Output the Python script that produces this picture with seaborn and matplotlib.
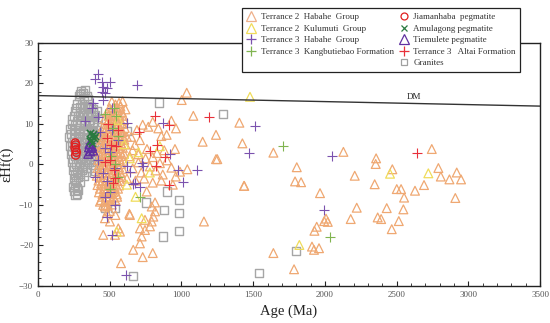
import pandas as pd
import seaborn as sns
import matplotlib.pyplot as plt
from matplotlib.lines import Line2D
from matplotlib.ticker import MultipleLocator

# Hf isotope data: (age in Ma, epsilon Hf(t))
T2_HABAHE = [
    (515, 15.5), (540, 14.8), (565, 15.2), (590, 15.6), (500, 13.9),
    (528, 14.1), (552, 14.0), (575, 14.3),
    (480, 12.8), (505, 13.1), (530, 12.5), (555, 13.4), (585, 12.9), (610, 13.6),
    (492, 12.0), (518, 12.2), (542, 11.9), (568, 12.1), (595, 12.0),
    (465, 11.2), (490, 10.8), (520, 11.5), (545, 10.6), (570, 11.3), (600, 10.9),
    (478, 10.0), (505, 10.2), (532, 9.9), (558, 10.1), (585, 10.0),
    (450, 9.1), (475, 8.7), (500, 9.4), (525, 8.8), (550, 9.2), (575, 8.6), (605, 9.0),
    (462, 8.0), (488, 8.1), (512, 7.9), (538, 8.2), (562, 7.8), (590, 8.0),
    (440, 7.2), (465, 6.8), (490, 7.5), (515, 6.9), (540, 7.3), (565, 6.6), (590, 7.1), (620, 6.8),
    (452, 6.0), (478, 6.1), (502, 5.9), (528, 6.2), (552, 5.8), (578, 6.0), (602, 6.1),
    (430, 5.1), (455, 4.7), (480, 5.4), (505, 4.8), (530, 5.3), (555, 4.6), (580, 5.2), (610, 4.9),
    (442, 4.0), (468, 4.1), (492, 3.9), (518, 4.2), (542, 3.8), (568, 4.0), (592, 4.1),
    (425, 3.2), (450, 2.8), (475, 3.5), (500, 2.9), (525, 3.3), (550, 2.7), (575, 3.1), (600, 2.6),
    (435, 2.0), (460, 2.1), (488, 1.9), (512, 2.2), (538, 1.8), (562, 2.0), (588, 2.1),
    (420, 1.1), (445, 0.7), (470, 1.4), (495, 0.8), (520, 1.2), (545, 0.6), (570, 1.3), (595, 0.9),
    (430, 0.0), (455, 0.1), (480, -0.1), (505, 0.2), (530, -0.2), (555, 0.0), (580, 0.1),
    (415, -0.9), (440, -1.3), (465, -0.6), (490, -1.2), (515, -0.8), (540, -1.4), (565, -0.7), (590, -1.1),
    (425, -2.0), (450, -1.9), (475, -2.1), (500, -2.0), (525, -1.8), (550, -2.2), (575, -2.0),
    (410, -2.8), (435, -3.2), (460, -2.6), (485, -3.3), (510, -2.9), (535, -3.4), (560, -2.7), (585, -3.1),
    (422, -4.0), (448, -4.1), (475, -3.9), (500, -4.2), (528, -3.8), (552, -4.0), (575, -4.1),
    (415, -5.1), (440, -4.7), (465, -5.3), (490, -4.9), (515, -5.4), (540, -4.8), (565, -5.2),
    (432, -6.0), (458, -6.1), (485, -5.9), (510, -6.2), (535, -5.8), (558, -6.0),
    (425, -6.9), (450, -7.3), (475, -6.7), (500, -7.2), (525, -6.8), (550, -7.4),
    (448, -8.0), (475, -8.1), (502, -7.9), (528, -8.2), (552, -8.0),
    (440, -8.8), (465, -9.2), (490, -8.7), (515, -9.1), (540, -8.9),
    (455, -10.0), (485, -10.2), (515, -9.9),
    (432, -9.2), (467, -10.4), (467, -13.3), (502, -14.1), (455, -17.4), (560, -15.8),
    (537, -17.4), (572, -16.6), (637, -12.2), (579, -24.4), (500, -11.5), (480, -12.0), (540, -12.5),
    (769, 9.3), (839, 8.9), (962, 8.9), (897, 7.3), (711, 6.0), (676, 4.8), (955, 3.8),
    (1037, 17.7), (1002, 15.9), (1083, 12.0), (1241, 7.3), (1148, 5.6), (1404, 10.3), (1425, 5.2),
    (1250, 1.3), (1041, -1.2), (1438, -5.3), (1157, -14.1),
    (640, 2.0), (660, -1.0), (700, 0.5), (720, -2.0), (750, 1.5), (780, -0.5), (800, 1.8),
    (820, -1.5), (850, 0.3), (870, -2.5), (900, 1.0), (930, -0.8), (960, -3.0), (990, -1.8),
    (620, -3.5), (680, -4.0), (740, -3.5), (800, -4.5), (860, -4.0), (940, -5.0),
    (660, 3.5), (700, 2.5), (760, 3.8), (830, 2.8), (880, 3.5),
    (650, 6.8), (690, 8.5), (730, 9.8), (800, 10.5), (860, 7.0), (930, 10.8),
    (816, -9.4), (816, -11.6), (804, -12.9), (793, -14.1), (781, -15.3), (746, -16.2),
    (711, -15.8), (723, -17.8), (711, -19.5), (664, -21.1), (730, -22.9), (800, -21.9),
    (746, -13.7), (793, -10.4), (758, -6.7), (641, -12.5),
    (1241, 1.3), (1641, 2.9), (1804, -0.7), (2129, 3.1), (2357, 1.5), (2354, 0.1),
    (2470, -1.2), (2208, -2.8), (2791, -0.9), (2808, -3.0), (2919, -2.0), (2868, -3.7),
    (2949, -3.7), (1792, -4.2), (1834, -4.4), (2347, -4.9), (2691, -5.1), (1436, -5.3),
    (2501, -6.1), (2531, -6.1), (2628, -6.5), (1966, -7.1), (2552, -8.2), (2909, -8.3),
    (2222, -10.7), (2431, -10.8), (2547, -11.1), (2008, -13.4), (1995, -14.0), (2020, -14.2),
    (2180, -13.5), (2368, -13.1), (2392, -13.5), (2515, -14.0), (1943, -15.4), (1927, -16.4),
    (2466, -16.0), (1910, -20.3), (1924, -21.1), (1959, -20.7), (1641, -21.9), (1785, -25.9),
    (2745, 3.8),
]
T2_KULUMUTI = [
    (1478, 16.7), (2454, -2.3), (2721, -2.2), (1822, -19.9), (640, 1.5), (700, 3.0),
    (780, -2.0), (620, -5.0), (850, 4.5), (560, 11.0), (600, 5.0), (723, -13.3),
    (549, -16.6), (680, -8.0),
]
T3_HABAHE = [
    (420, 22.3), (397, 21.0), (444, 20.4), (502, 20.4), (455, 19.2), (688, 19.6),
    (479, 18.8), (444, 18.0), (467, 17.6), (455, 15.9), (385, 15.1), (374, 13.9),
    (514, 13.9), (420, 11.8), (328, 10.6), (618, 10.2), (514, 8.5), (723, 0.3),
    (618, -0.5), (362, 5.2), (420, 1.1), (874, 10.3), (920, 2.6), (734, -0.5),
    (1106, -1.4), (978, -1.4), (664, -4.8), (711, -5.5), (1009, -4.4), (1513, 9.5),
    (1471, 2.8), (2050, 2.1), (1994, -11.2), (479, -12.9), (514, -17.4), (537, -10.0),
    (502, -6.7), (641, -1.8), (676, -4.6), (614, -27.3), (450, -2.0), (480, -4.0),
    (470, 4.0), (430, 8.0), (500, 3.0), (560, 6.0), (540, -1.0), (470, -8.0), (400, -3.0),
]
T3_KANGBUTIEBAO = [
    (1710, 4.6), (2036, -18.0), (711, -8.1), (530, 14.0), (545, 12.0), (520, 9.0),
    (555, 7.0), (510, 2.0), (540, 0.0), (560, -3.0), (500, -6.0), (470, 12.5),
]
T3_ALTAI = [
    (1192, 11.7), (816, 12.0), (915, 9.8), (706, 7.9), (832, 4.8), (781, 3.2),
    (885, 1.9), (915, -5.1), (2640, 2.8), (525, -4.6), (537, -3.4), (480, 6.5),
    (510, 4.8), (545, 4.5), (500, 1.0), (470, 0.5), (530, -1.5), (560, 8.5),
    (490, 10.0), (820, -0.5),
]
GRANITES = [
    (300, 18.2), (330, 18.4), (285, 16.8), (320, 16.5), (350, 16.2), (310, 15.0),
    (295, 17.3), (315, 17.6), (340, 17.0),
    (275, 14.8), (340, 14.5), (370, 14.2),
    (265, 14.0), (295, 14.1), (325, 13.8), (355, 14.0), (385, 13.7),
    (260, 13.2), (290, 12.8), (320, 13.0), (350, 12.6), (380, 12.9), (410, 13.3),
    (250, 12.0), (280, 11.9), (310, 12.1), (340, 11.8), (370, 12.0), (400, 12.2),
    (240, 11.1), (270, 10.6), (300, 11.0), (330, 10.5), (360, 10.9), (390, 10.4), (420, 11.2),
    (235, 10.0), (262, 9.8), (292, 9.9), (322, 10.1), (352, 9.7), (382, 9.9), (410, 9.8),
    (225, 8.8), (255, 8.4), (285, 8.9), (315, 8.3), (345, 8.7), (375, 8.2), (405, 8.6),
    (230, 7.6), (262, 7.5), (292, 7.7), (322, 7.4), (352, 7.6), (382, 7.3), (412, 7.6),
    (220, 6.7), (250, 6.3), (280, 6.8), (310, 6.2), (340, 6.6), (370, 6.1), (400, 6.5), (430, 6.9),
    (235, 5.5), (268, 5.4), (298, 5.6), (328, 5.3), (358, 5.5), (390, 5.2), (418, 5.6),
    (225, 4.6), (255, 4.2), (285, 4.7), (315, 4.1), (345, 4.5), (375, 4.0), (405, 4.4),
    (240, 3.4), (272, 3.3), (302, 3.5), (332, 3.2), (362, 3.4), (395, 3.1),
    (230, 2.6), (260, 2.2), (290, 2.7), (320, 2.1), (350, 2.5), (380, 2.0), (410, 2.4),
    (245, 1.4), (278, 1.3), (308, 1.5), (338, 1.2), (368, 1.4), (398, 1.1),
    (235, 0.6), (265, 0.2), (295, 0.7), (325, 0.1), (355, 0.5), (385, -0.1),
    (255, -0.6), (285, -0.7), (315, -0.5), (345, -0.8), (370, -0.9),
    (245, -1.4), (275, -1.8), (305, -1.3), (335, -1.9), (395, -1.5),
    (262, -2.5), (292, -2.4), (322, -2.8),
    (250, -3.5), (280, -3.0), (260, -5.0), (275, -5.8), (255, -6.6), (270, -7.3), (290, -4.3),
    (265, -4.2), (248, -5.6), (280, -6.4), (262, -7.6),
    (844, 15.3), (1288, 12.4), (618, 8.3), (897, -6.7), (753, -9.4), (985, -8.8),
    (878, -11.2), (985, -12.0), (985, -16.4), (874, -17.8), (664, -27.5), (467, -10.8),
    (537, -10.8), (1801, -21.3), (1539, -26.9),
]
JIAMANHABA = [(263, 4.8), (263, 3.6), (263, 2.3), (258, 4.2), (268, 3.0), (260, 5.3)]
AMULAGONG = [(365, 7.8), (375, 6.9), (385, 7.5), (370, 6.0), (380, 5.3), (390, 6.4),
             (360, 5.8), (395, 7.0)]
TIEMULETE = [(350, 2.6), (365, 3.2), (378, 4.4), (358, 5.0), (385, 3.4), (370, 4.0), (355, 4.2)]

DM_AGE = [0, 3500]
DM_EHF = [17.0, 14.4]

sns.set_theme(style="ticks")
plt.rcParams["font.family"] = ["Liberation Serif", "DejaVu Serif"]

fig = plt.figure(figsize=(5.5, 3.23), dpi=100)
ax = fig.add_axes([0.069, 0.115, 0.913, 0.752])

# (label, data, marker, colour, open marker?, size, line width)
series = [
    ("Granites", GRANITES, "s", "#a6a6a6", True, 34, 1.0),
    ("Terrance 2  Habahe  Group", T2_HABAHE, "^", "#efa872", True, 40, 0.9),
    ("Terrance 2  Kulumuti  Group", T2_KULUMUTI, "^", "#f0dc5a", True, 40, 0.9),
    ("Terrance 3  Habahe  Group", T3_HABAHE, "+", "#7b52ae", False, 50, 0.8),
    ("Terrance 3  Kangbutiebao  Formation", T3_KANGBUTIEBAO, "+", "#80b450", False, 50, 0.8),
    ("Terrance 3   Altai  Formation", T3_ALTAI, "+", "#e8303a", False, 50, 0.8),
    ("Tiemulete pegmatite", TIEMULETE, "^", "#6030a0", True, 38, 1.0),
    ("Amulagong pegmatite", AMULAGONG, "x", "#2a7a40", False, 28, 1.1),
    ("Jiamanhaba  pegmatite", JIAMANHABA, "o", "#e02020", True, 34, 1.0),
]

for label, pts, marker, color, hollow, size, lw in series:
    df = pd.DataFrame(pts, columns=["age", "ehf"])
    if hollow:
        sns.scatterplot(data=df, x="age", y="ehf", ax=ax, marker=marker, s=size,
                        facecolors="none", edgecolor=color, linewidth=lw)
    else:
        sns.scatterplot(data=df, x="age", y="ehf", ax=ax, marker=marker, s=size,
                        color=color, linewidth=lw)

dm = pd.DataFrame({"age": DM_AGE, "ehf": DM_EHF})
sns.lineplot(data=dm, x="age", y="ehf", ax=ax, color="#333333", linewidth=1.0)
ax.text(2620, 15.7, "DM", fontsize=6.5, ha="center", va="bottom", color="#222222")

ax.set_xlim(0, 3500)
ax.set_ylim(-30, 30)
ax.xaxis.set_major_locator(MultipleLocator(500))
ax.xaxis.set_minor_locator(MultipleLocator(100))
ax.yaxis.set_major_locator(MultipleLocator(10))
ax.yaxis.set_minor_locator(MultipleLocator(2))
ax.tick_params(which="both", direction="in", labelsize=6.5, colors="#222222", labelcolor="#555555")
ax.tick_params(which="major", length=3.5, width=0.8)
ax.tick_params(which="minor", length=2, width=0.6)
for sp in ax.spines.values():
    sp.set_color("#222222")
    sp.set_linewidth(1.0)
ax.set_xlabel("Age (Ma)", fontsize=10.5, color="#222222", labelpad=4)
ax.set_ylabel("εHf(t)", fontsize=10.5, color="#222222", labelpad=4)

def handle(marker, color, hollow, ms):
    return Line2D([], [], linestyle="none", marker=marker, markersize=ms,
                  markerfacecolor="none" if hollow else color,
                  markeredgecolor=color, markeredgewidth=0.9)

legend_items = [
    (handle("^", "#eeb08a", True, 6.5), "Terrance 2  Habahe  Group"),
    (handle("^", "#f0dc5a", True, 6.5), "Terrance 2  Kulumuti  Group"),
    (handle("+", "#7b52ae", False, 7), "Terrance 3  Habahe  Group"),
    (handle("+", "#80b450", False, 7), "Terrance 3  Kangbutiebao Formation"),
    (Line2D([], [], linestyle="none"), " "),
    (handle("o", "#e02020", True, 5), "Jiamanhaba  pegmatite"),
    (handle("x", "#2a7a40", False, 4.5), "Amulagong pegmatite"),
    (handle("^", "#6030a0", True, 6.5), "Tiemulete pegmatite"),
    (handle("+", "#e8303a", False, 7), "Terrance 3   Altai Formation"),
    (handle("s", "#a0a0a0", True, 4.5), "Granites"),
]
leg = fig.legend([h for h, _ in legend_items], [l for _, l in legend_items],
                 ncol=2, loc="upper left", bbox_to_anchor=(0.431, 0.988),
                 fontsize=6.5, frameon=True, fancybox=False, framealpha=1,
                 edgecolor="#222222", handlelength=1.2, handletextpad=0.4,
                 columnspacing=0.6, labelspacing=0.35, borderpad=0.5)
leg.get_frame().set_linewidth(0.9)
for t in leg.get_texts():
    t.set_color("#333333")

fig.savefig("out.png", dpi=100)
